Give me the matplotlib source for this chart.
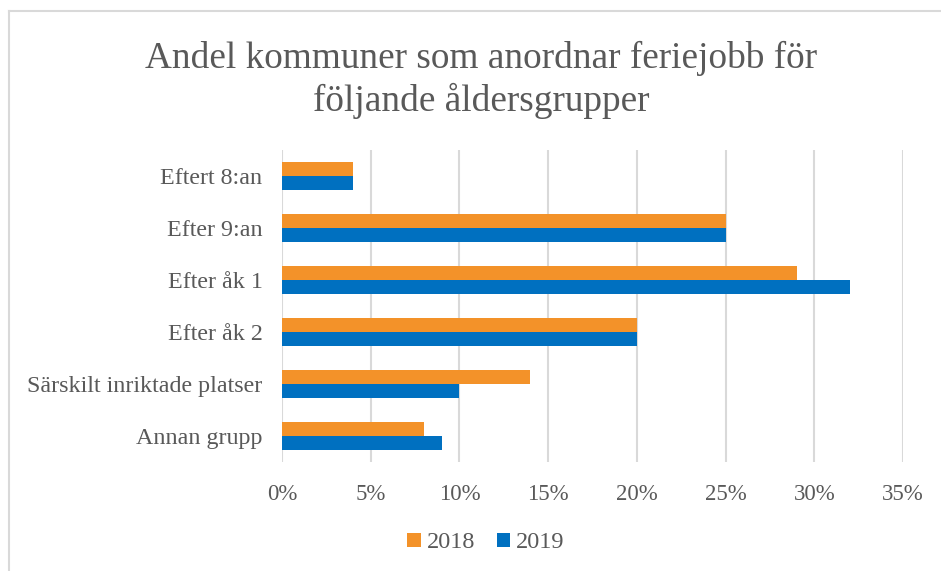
import matplotlib as mpl
mpl.use('Agg')
import matplotlib.pyplot as plt
import numpy as np
from matplotlib.lines import Line2D
from matplotlib.patches import Patch

categories = ['Eftert 8:an', 'Efter 9:an', 'Efter åk 1', 'Efter åk 2',
              'Särskilt inriktade platser', 'Annan grupp']
v2018 = [4, 25, 29, 20, 14, 8]
v2019 = [4, 25, 32, 20, 10, 9]
xticks = [0, 5, 10, 15, 20, 25, 30, 35]

plt.rcParams['font.family'] = ['Liberation Serif', 'DejaVu Serif']
gray = '#595959'
orange = '#F39229'
blue = '#0070C0'

fig = plt.figure(figsize=(9.41, 5.71), dpi=100)
ax = fig.add_axes([282/941, 1 - 462/571, (903-282)/941, (462-150)/571])

y = np.arange(len(categories))
h = 0.26
ax.barh(y - h/2, v2018, height=h, color=orange, zorder=3)
ax.barh(y + h/2, v2019, height=h, color=blue, zorder=3)

ax.set_ylim(len(categories) - 0.5, -0.5)
ax.set_xlim(0, 35)
ax.set_yticks(y)
ax.set_yticklabels(categories)
ax.set_xticks(xticks)
ax.set_xticklabels([str(t) + '%' for t in xticks])
ax.tick_params(axis='both', length=0, labelcolor=gray)
ax.tick_params(axis='x', pad=16, labelsize=16.5)
ax.tick_params(axis='y', pad=14, labelsize=17.3)
ax.grid(True, axis='x', color='#D9D9D9', linewidth=1.5, zorder=0)
for s in ax.spines.values():
    s.set_visible(False)

fig.text(481/941, 1 - 80/571, 'Andel kommuner som anordnar feriejobb för\nföljande åldersgrupper',
         ha='center', va='center', fontsize=26.8, color=gray, linespacing=1.25)

handles = [Patch(facecolor=orange, label='2018'), Patch(facecolor=blue, label='2019')]
fig.legend(handles=handles, loc='center', bbox_to_anchor=(486/941, 1 - 543/571), ncol=2,
           frameon=False, fontsize=17.5, labelcolor=gray, handlelength=0.55, handleheight=0.55,
           handletextpad=0.25, columnspacing=0.9)

fig.add_artist(Line2D([9/941, 9/941], [0, 1 - 11/571], color='#D9D9D9', linewidth=1.5))
fig.add_artist(Line2D([9/941, 1], [1 - 11/571, 1 - 11/571], color='#D9D9D9', linewidth=1.5))

fig.savefig('out.png', dpi=100)
plt.close()
